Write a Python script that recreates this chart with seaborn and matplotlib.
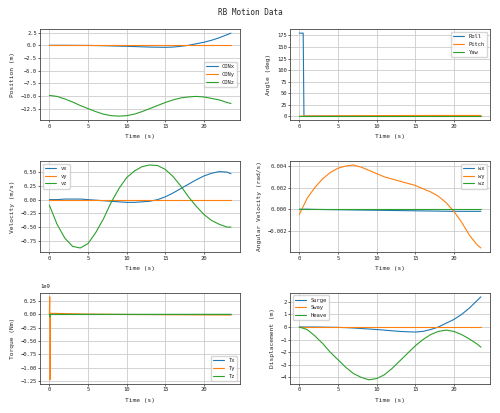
import matplotlib
matplotlib.use("Agg")
import matplotlib.pyplot as plt
import seaborn as sns
import numpy as np

sns.set_theme(style="whitegrid", palette="tab10")
plt.rcParams['font.family'] = ['DejaVu Sans Mono']

t = [0,1,2,3,4,5,6,7,8,9,10,11,12,13,14,15,16,17,18,19,20,21,22,23,23.5]
con_x = [0,0,0,-0.01,-0.02,-0.03,-0.05,-0.08,-0.12,-0.16,-0.2,-0.25,-0.3,-0.35,-0.38,-0.4,-0.35,-0.2,0.0,0.3,0.6,1.0,1.5,2.1,2.4]
con_y = [0]*25
con_z = [-9.9,-10.1,-10.6,-11.2,-11.9,-12.5,-13.1,-13.6,-13.9,-14.0,-13.9,-13.6,-13.1,-12.5,-11.9,-11.3,-10.8,-10.4,-10.2,-10.1,-10.2,-10.5,-10.8,-11.3,-11.5]
roll_t = [0,0.5,0.6,1,5,10,15,20,23.5]
roll = [180,180,0,0,0,0,0,0,0]
pitch = [0,0.2,0.3,0.4,0.8,1.2,1.4,1.5,1.5]
yaw = [0]*9
vx = [0,0,0.01,0.01,0.01,0.0,-0.01,-0.02,-0.03,-0.04,-0.05,-0.05,-0.04,-0.03,0.0,0.05,0.12,0.2,0.28,0.36,0.43,0.48,0.51,0.5,0.47]
vy = [0]*25
vz = [-0.1,-0.45,-0.7,-0.85,-0.88,-0.8,-0.6,-0.35,-0.05,0.2,0.4,0.52,0.6,0.63,0.62,0.55,0.42,0.25,0.05,-0.12,-0.27,-0.38,-0.45,-0.5,-0.5]
wx = [0,0,-0.00002,-0.00003,-0.00004,-0.00005,-0.00006,-0.00007,-0.00008,-0.00009,-0.0001,-0.00011,-0.00012,-0.00013,-0.00014,-0.00015,-0.00016,-0.00017,-0.00018,-0.00019,-0.0002,-0.0002,-0.0002,-0.0002,-0.0002]
wy = [-0.0005,0.001,0.002,0.0028,0.0034,0.0038,0.004,0.0041,0.0039,0.0036,0.0033,0.003,0.0028,0.0026,0.0024,0.0022,0.0019,0.0016,0.0012,0.0006,-0.0002,-0.0012,-0.0024,-0.0033,-0.0036]
wz = [0]*25
tq_t = [0,0.05,0.1,0.15,0.3,5,10,15,20,23.5]
tx = [0,0,0,0,0,0,0,0,0,0]
ty = [0,0.33e9,-1.23e9,0.02e9,0.02e9,0.005e9,-0.002e9,-0.006e9,-0.01e9,-0.012e9]
tz = [0,-0.05e9,0,0,0,0,0,0,0,0]
heave = [0,-0.2,-0.7,-1.3,-2.0,-2.6,-3.2,-3.7,-4.0,-4.2,-4.1,-3.8,-3.3,-2.7,-2.1,-1.5,-1.0,-0.6,-0.35,-0.25,-0.35,-0.6,-0.95,-1.35,-1.6]

fig, axes = plt.subplots(3, 2, figsize=(5, 4.13), dpi=100)
fig.suptitle("RB Motion Data", fontsize=5.5)

def draw(ax, x, ys, labels, ylabel, loc):
    for y, l in zip(ys, labels):
        sns.lineplot(x=x, y=y, ax=ax, label=l, linewidth=0.8)
    ax.set_xlabel("Time (s)", fontsize=4.5)
    ax.set_ylabel(ylabel, fontsize=4.5)
    ax.tick_params(labelsize=4, pad=1, length=1.5, bottom=True, left=True, width=0.5)
    ax.legend(fontsize=4, loc=loc)
    ax.yaxis.get_offset_text().set_fontsize(4)
    for s in ax.spines.values():
        s.set_edgecolor("#444444"); s.set_linewidth(0.6)
    ax.grid(linewidth=0.6, color="#cccccc")

draw(axes[0,0], t, [con_x, con_y, con_z], ["CONx","CONy","CONz"], "Position (m)", "center right")
draw(axes[0,1], roll_t, [roll, pitch, yaw], ["Roll","Pitch","Yaw"], "Angle (deg)", "upper right")
draw(axes[1,0], t, [vx, vy, vz], ["vx","vy","vz"], "Velocity (m/s)", "upper left")
draw(axes[1,1], t, [wx, wy, wz], ["wx","wy","wz"], "Angular Velocity (rad/s)", "upper right")
draw(axes[2,0], tq_t, [tx, ty, tz], ["Tx","Ty","Tz"], "Torque (Nm)", "lower right")
draw(axes[2,1], t, [con_x, con_y, heave], ["Surge","Sway","Heave"], "Displacement (m)", "upper left")

fig.tight_layout(pad=0.6, h_pad=0.8, w_pad=1.0)
fig.savefig("out.png", dpi=100)
